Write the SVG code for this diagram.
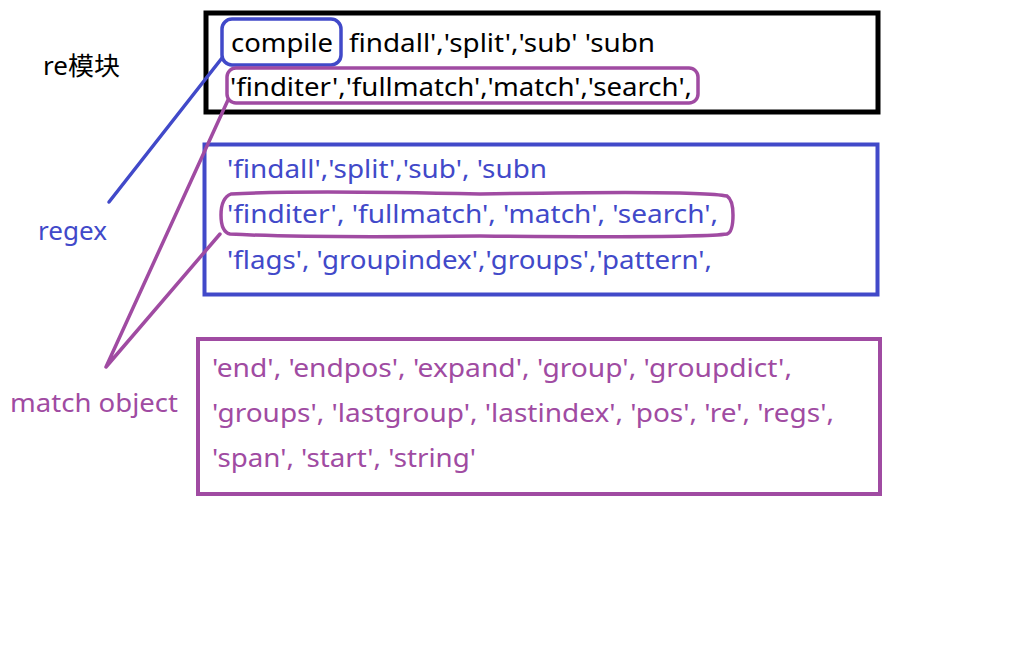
<svg xmlns="http://www.w3.org/2000/svg" width="1018" height="652" viewBox="0 0 1018 652">
<style>
text{font-family:"Noto Sans","Open Sans","Noto Sans CJK SC",sans-serif;font-size:25px}
.k{fill:#000}
.b{fill:#4149c9}
.p{fill:#a04ba2}
.box{fill:none}
</style>
<rect width="1018" height="652" fill="#fff"/>
<g id="re-module-label"><text class="k" x="43" y="75" textLength="77" lengthAdjust="spacingAndGlyphs">re模块</text></g>
<g id="regex-label"><text class="b" x="38" y="240" textLength="69" lengthAdjust="spacingAndGlyphs">regex</text></g>
<g id="match-object-label"><text class="p" x="10" y="412" textLength="168" lengthAdjust="spacingAndGlyphs">match object</text></g>
<g id="re-box">
<rect class="box" x="206" y="13" width="672" height="99" stroke="#000" stroke-width="5"/>
<text class="k" x="231" y="52" textLength="102" lengthAdjust="spacingAndGlyphs">compile</text>
<text class="k" x="349" y="52" textLength="306" lengthAdjust="spacingAndGlyphs">findall','split','sub' 'subn</text>
<text class="k" x="230" y="96" textLength="462" lengthAdjust="spacingAndGlyphs">'finditer','fullmatch','match','search',</text>
<rect class="box" x="222" y="19" width="119" height="46" rx="10" stroke="#4149c9" stroke-width="3.5"/>
<rect class="box" x="227" y="68" width="471" height="35" rx="9" stroke="#a04ba2" stroke-width="3.5"/>
</g>
<g id="regex-box">
<rect class="box" x="204.5" y="144.5" width="673" height="150" stroke="#4149c9" stroke-width="4"/>
<text class="b" x="227" y="178" textLength="320" lengthAdjust="spacingAndGlyphs">'findall','split','sub', 'subn</text>
<text class="b" x="227" y="223" textLength="491" lengthAdjust="spacingAndGlyphs">'finditer', 'fullmatch', 'match', 'search',</text>
<text class="b" x="227" y="269" textLength="485" lengthAdjust="spacingAndGlyphs">'flags', 'groupindex','groups','pattern',</text>
<path class="box" d="M231,194 Q300,190 480,194 Q700,190 727,196 Q733,200 733,215 Q733,232 727,234 Q700,238 480,236 Q300,238 230,234 Q221,232 221,215 Q221,198 231,194 Z" stroke="#a04ba2" stroke-width="3.5"/>
</g>
<g id="match-box">
<rect class="box" x="198" y="339" width="682" height="155" stroke="#a04ba2" stroke-width="4"/>
<text class="p" x="212" y="377" textLength="580" lengthAdjust="spacingAndGlyphs">'end', 'endpos', 'expand', 'group', 'groupdict',</text>
<text class="p" x="212" y="422" textLength="622" lengthAdjust="spacingAndGlyphs">'groups', 'lastgroup', 'lastindex', 'pos', 're', 'regs',</text>
<text class="p" x="212" y="467" textLength="264" lengthAdjust="spacingAndGlyphs">'span', 'start', 'string'</text>
</g>
<g id="connectors" fill="none" stroke-width="3.5" stroke-linecap="round">
<line x1="222" y1="58" x2="109" y2="202" stroke="#4149c9"/>
<path d="M228,100 L106,367 L220,234" stroke="#a04ba2" stroke-linejoin="round"/>
</g>
</svg>
